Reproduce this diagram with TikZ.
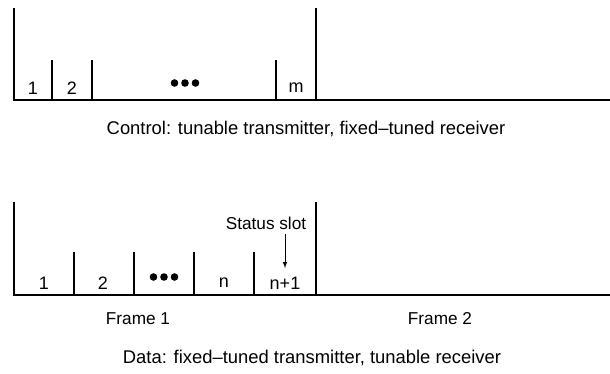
\documentclass[tikz,border=0pt]{standalone}
\usepackage{fontspec}
\setmainfont{Liberation Sans}
\usetikzlibrary{positioning}
\begin{document}
\begin{tikzpicture}[x=1pt,y=-1pt,line width=1.2pt,
    slotlabel/.style={inner sep=0pt,font=\fontsize{18}{21}\selectfont},
    caption/.style={inner sep=0pt,font=\fontsize{18.4}{21}\selectfont},
    framelabel/.style={inner sep=0pt,font=\fontsize{17.2}{20}\selectfont},
    dots/.style={fill=black,radius=3.8}]
    \useasboundingbox (0,0) rectangle (610,373);
    {
    \def\ctrlaxis{(14,8) -- (14,100) -- (610,100)}
    \def\dataaxis{(14,202) -- (14,295) -- (610,295)}

    % control channel
    \draw \ctrlaxis;
    \draw (316,8) -- (316,100);
    \foreach \x in {52,92,276}
        \draw (\x,60) -- (\x,100);
    \node[slotlabel] (c1) at (33,88) {1};
    \node[slotlabel] (c2) at (72,88) {2};
    \node[slotlabel] (cm) at (296,88) {m};
    \foreach \x in {-10.5,0,10.5}
        \fill[dots] (185+\x,83) circle;
    \node[caption] (ctrl) at (306,129) {Control: tunable transmitter, fixed--tuned receiver};

    % data channel
    \draw \dataaxis;
    \draw (316,202) -- (316,295);
    \foreach \x in {74,134,194,254}
        \draw (\x,252) -- (\x,295);
    \node[slotlabel] (d1) at (44,283) {1};
    \node[slotlabel] (d2) at (103,283) {2};
    \node[slotlabel] (dn) at (224,283) {n};
    \node[slotlabel] (dn1) at (285,283) {n+1};
    \foreach \x in {-10.5,0,10.5}
        \fill[dots] (164+\x,277) circle;
    \node[framelabel] (status) at (266,223) {Status slot};
    \coordinate (slot) at (285,268);
    \draw[-latex,line width=1pt] (status.south -| slot) ++(0,4) -- (slot);
    \node[framelabel] (frame1) at (138,319) {Frame 1};
    \node[framelabel] (frame2) at (440,319) {Frame 2};
    \node[caption] (data) at (312,358) {Data: fixed--tuned transmitter, tunable receiver};
    }
\end{tikzpicture}
\end{document}
